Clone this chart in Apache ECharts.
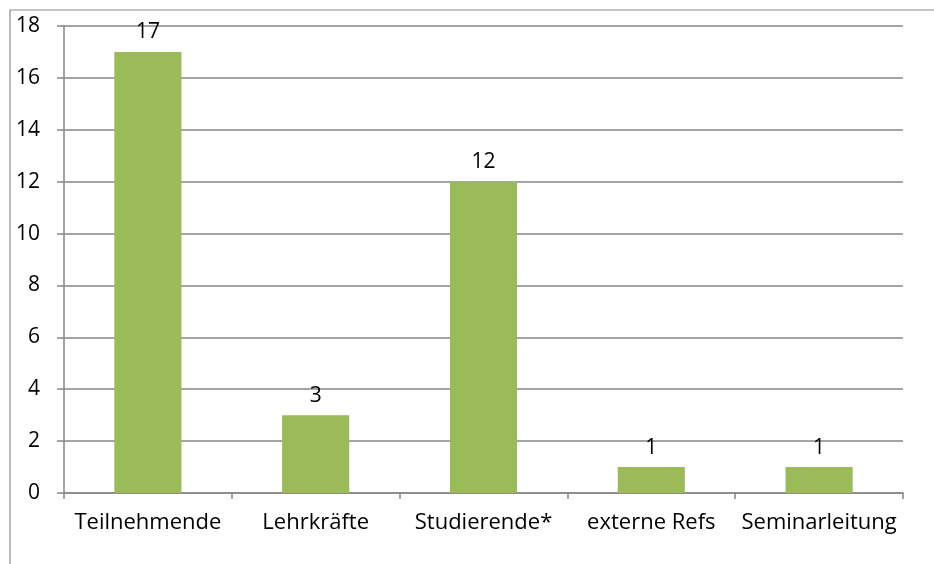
<!DOCTYPE html>
<html>
<head>
<meta charset="utf-8">
<script src="https://cdn.jsdelivr.net/npm/echarts@6/dist/echarts.min.js"></script>
<style>
html, body { margin: 0; padding: 0; background: #fff; }
#chart { width: 934px; height: 564px; }
</style>
</head>
<body>
<div id="chart"></div>
<script>
// Kategorien und Werte
var categories = ['Teilnehmende', 'Lehrkräfte', 'Studierende*', 'externe Refs', 'Seminarleitung'];
var values = [17, 3, 12, 1, 1];
var yTicks = [0, 2, 4, 6, 8, 10, 12, 14, 16, 18];

var font = '"Open Sans", sans-serif';
var gray = '#868686';

var chart = echarts.init(document.getElementById('chart'));
chart.setOption({
    animation: false,
    backgroundColor: '#fff',
    graphic: [{
        type: 'rect',
        shape: { x: 10, y: 10, width: 940, height: 580 },
        style: { fill: 'none', stroke: '#8c8c8c', lineWidth: 1.2 },
        silent: true
    }],
    grid: { left: 64, right: 31, top: 26, bottom: 71 },
    xAxis: {
        type: 'category',
        data: categories,
        axisLine: { lineStyle: { color: gray, width: 1.5 } },
        axisTick: { show: true, length: 6, lineStyle: { color: gray, width: 1.5 } },
        axisLabel: { color: '#000', fontSize: 22, fontFamily: font, margin: 19, interval: 0 }
    },
    yAxis: {
        type: 'value',
        min: yTicks[0],
        max: yTicks[yTicks.length - 1],
        interval: 2,
        axisLine: { show: true, lineStyle: { color: gray, width: 1.5 } },
        axisTick: { show: true, length: 7, lineStyle: { color: gray, width: 1.5 } },
        axisLabel: { color: '#000', fontSize: 21, fontFamily: font, margin: 24 },
        splitLine: { show: true, lineStyle: { color: gray, width: 1.5 } }
    },
    series: [{
        type: 'bar',
        data: values,
        barWidth: '40%',
        itemStyle: { color: '#9bbb59' },
        label: {
            show: true,
            position: 'top',
            distance: 9,
            color: '#000',
            fontSize: 21,
            fontFamily: font
        }
    }]
});
</script>
</body>
</html>
